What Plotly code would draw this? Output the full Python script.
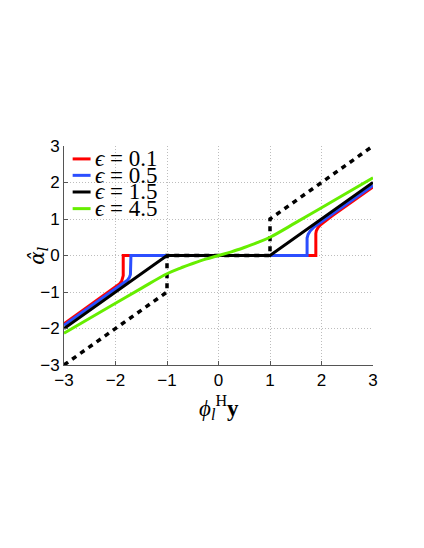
import plotly.graph_objects as go

# values
eps_labels = ["0.1", "0.5", "1.5", "4.5"]
line_colors = ["#ff0000", "#2b4eff", "#000000", "#66ee00"]

x_red = [-3.0, -2.2, -2.0, -1.93, -1.88, -1.86, -1.85, -1.85, 1.89, 1.89, 1.9, 1.93, 1.98, 2.2, 3.0]
y_red = [-1.87, -1.07, -0.88, -0.79, -0.7, -0.62, -0.55, 0.0, 0.0, 0.6, 0.68, 0.76, 0.84, 1.08, 1.88]

x_blue = [-3.0, -2.2, -2.0, -1.85, -1.77, -1.73, -1.71, -1.70, 1.72, 1.72, 1.74, 1.78, 1.86, 2.1, 3.0]
y_blue = [-1.91, -1.12, -0.93, -0.78, -0.68, -0.6, -0.52, 0.0, 0.0, 0.48, 0.58, 0.67, 0.79, 1.03, 1.92]

x_black = [-3.0, -1.0, 1.0, 3.0]
y_black = [-2.0, 0.0, 0.0, 2.0]

x_green = [-3.0, -2.5, -2.0, -1.5, -1.0, -0.75, -0.5, -0.25, 0.0, 0.25, 0.5, 0.75, 1.0, 1.5, 2.0, 2.5, 3.0]
y_green = [-2.13, -1.72, -1.31, -0.9, -0.5, -0.35, -0.22, -0.1, 0.0, 0.1, 0.22, 0.35, 0.5, 0.9, 1.31, 1.72, 2.13]

x_hard = [-3.0, -1.0, -1.0, 1.0, 1.0, 3.0]
y_hard = [-3.0, -1.0, 0.0, 0.0, 1.0, 3.0]

tick_vals = [-3, -2, -1, 0, 1, 2, 3]

fig = go.Figure()

# white box behind the legend, above the grid
fig.add_shape(type="rect", xref="paper", yref="paper", x0=0.013, x1=0.33, y0=0.68, y1=0.995,
              fillcolor="white", line=dict(width=0), layer="between")

fig.add_trace(go.Scatter(x=x_hard, y=y_hard, mode="lines",
                         line=dict(color="black", width=3.5, dash="5px,5px"), showlegend=False))

series = [(x_red, y_red), (x_blue, y_blue), (x_black, y_black), (x_green, y_green)]
for (xs, ys), col in zip(series, line_colors):
    shape = "spline" if col == "#66ee00" else "linear"  # only the green one is smooth
    fig.add_trace(go.Scatter(x=xs, y=ys, mode="lines", line_shape=shape,
                             line=dict(color=col, width=3), showlegend=False))

# hand-made legend, like the MATLAB one
row_y = [0.941, 0.866, 0.79, 0.714]
for lab, col, ry in zip(eps_labels, line_colors, row_y):
    fig.add_shape(type="line", xref="paper", yref="paper", x0=0.028, x1=0.086, y0=ry, y1=ry,
                  line=dict(color=col, width=3))
    fig.add_annotation(xref="paper", yref="paper", x=0.094, y=ry, xanchor="left", yanchor="middle",
                       text=f"<i>ϵ</i> = {lab}", showarrow=False,
                       font=dict(family="Liberation Serif", size=23, color="black"))

axis_style = dict(
    range=[-3, 3], tickvals=tick_vals, ticks="inside", ticklen=4, tickcolor="#555555",
    showline=True, linecolor="#555555", linewidth=1, mirror=False, automargin=False,
    showgrid=True, gridcolor="#bdbdbd", griddash="1px,2px", gridwidth=1,
    zeroline=False, tickfont=dict(family="Liberation Sans", size=17, color="black"),
)

fig.update_xaxes(**axis_style)
fig.update_yaxes(**axis_style, ticksuffix=" ")

fig.add_annotation(xref="paper", yref="paper", x=0.5, y=-0.115, yanchor="top",
                   text="<i>ϕ</i><sub><i>l</i></sub><sup>H</sup><b>y</b>", showarrow=False,
                   font=dict(family="Liberation Serif", size=23, color="black"))
fig.add_annotation(xref="paper", yref="paper", x=-0.135, y=0.5, textangle=-90,
                   text="<i>α̂</i><sub><i>l</i></sub>", showarrow=False,
                   font=dict(family="DejaVu Serif", size=20, color="black"))

# page body adds an 8px offset, so margins are trimmed by that amount
fig.update_layout(
    width=424, height=548,
    margin=dict(l=56, r=59, t=138, b=191),
    plot_bgcolor="white", paper_bgcolor="white",
    showlegend=False,
)

fig.write_html("out.html")
